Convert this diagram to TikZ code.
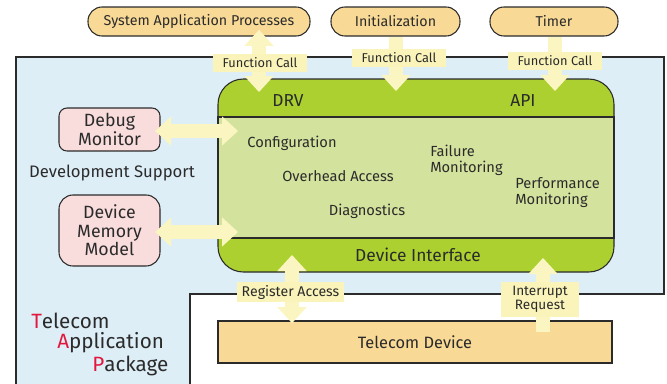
\documentclass[tikz,border=0pt]{standalone}
\usepackage{fontspec}
\setmainfont{Fira Sans}
\usetikzlibrary{arrows.meta}

\definecolor{appblue}{HTML}{DDEEF7}
\definecolor{drvgreen}{HTML}{ABD030}
\definecolor{corelime}{HTML}{D3E29D}
\definecolor{proctan}{HTML}{F8D996}
\definecolor{toolpink}{HTML}{F9DCDC}
\definecolor{callyellow}{HTML}{FBF6C1}
\definecolor{tagyellow}{HTML}{FAF4BA}
\definecolor{initred}{HTML}{E3173E}
\definecolor{inkgray}{HTML}{2B2B2B}

\begin{document}
\begin{tikzpicture}[x=0.75pt,y=-0.75pt,
          every node/.style={text=inkgray,font=\fontsize{11}{12}\selectfont},
          proc/.style={draw=inkgray,thick,fill=proctan,rounded corners=10.5pt,minimum height=21.75pt,font=\fontsize{10.7}{12}\selectfont},
          tool/.style={draw=inkgray,thick,fill=toolpink,minimum width=75.75pt,align=center,inner sep=0pt,font=\fontsize{13.3}{13.8}\selectfont},
          calltag/.style={fill=tagyellow,inner sep=0pt,minimum width=70.5pt,minimum height=13.5pt,font=\fontsize{9.6}{9.2}\selectfont},
          band/.style={font=\fontsize{13}{14}\selectfont},
          fat/.style={draw=callyellow,line width=11pt},
          both/.style={fat,{Triangle[length=12pt,width=22pt,line width=0pt]}-{Triangle[length=12pt,width=22pt,line width=0pt]}},
          one/.style={fat,-{Triangle[length=12pt,width=22pt,line width=0pt]}},
          pkgline/.style={anchor=west,inner sep=0pt,font=\fontsize{15.5}{16}\selectfont},
        ]
        \useasboundingbox (0,0) rectangle (667,383);

        % application package area
        \draw[thick,draw=inkgray,fill=appblue] (16,395) -- (16,57) -- (664,57) -- (664,294)
              -- (190,294) -- (190,395);

        % driver block
        \draw[thick,draw=inkgray,fill=drvgreen,rounded corners=19pt] (218,79) rectangle (614,272);
        \draw[thick,draw=inkgray,fill=corelime] (218,117) rectangle (614,238);

        % top processes
        \node[proc,minimum width=166.5pt] (sap) at (199,21.5) {System Application Processes};
        \node[proc,minimum width=96.75pt] (init) at (395.5,21.5) {Initialization};
        \node[proc,minimum width=96pt] (timer) at (554,21.5) {Timer};

        % development support
        \node[tool,rounded corners=6pt,minimum height=32.25pt] (debug) at (109.5,129.5) {Debug\\Monitor};
        \node[tool,rounded corners=10.5pt,minimum height=53.25pt] (devmem) at (109.5,230.5) {Device\\Memory\\Model};
        \node[font=\fontsize{12.5}{14}\selectfont] (devsup) at (112,173) {Development Support};

        % device
        \node[draw=inkgray,thick,fill=proctan,minimum width=295.5pt,minimum height=31.5pt,
              font=\fontsize{12.3}{14}\selectfont] (dev) at (415,342) {Telecom Device};

        % driver texts
        \node[band] (drv) at (288,101) {DRV};
        \node[band] (api) at (523,101) {API};
        \node[band] (devif) at (418,255) {Device Interface};
        \node (config) at (292,143) {Configuration};
        \node (overhead) at (338,176) {Overhead Access};
        \node (diag) at (367,211) {Diagnostics};
        \node[align=left,anchor=west,inner sep=0pt] (failmon) at (430,160) {Failure\\Monitoring};
        \node[align=left,anchor=west,inner sep=0pt] (perfmon) at (515,192.5) {Performance\\Monitoring};

        % connector ends
        \coordinate (sapin) at (259,92);
        \coordinate (initin) at (396,91);
        \coordinate (timerin) at (555,91);
        \coordinate (debugin) at (238,131);
        \coordinate (devmemin) at (238,232);
        \coordinate (regin) at (292,255);
        \coordinate (irqin) at (543,258);
        \coordinate (irqout) at (543,332);

        % calls
        \draw[both] ([yshift=5pt]sap.south -| sapin) -- (sapin);
        \draw[one] (init.south -| initin) -- (initin);
        \draw[one] (timer.south -| timerin) -- (timerin);
        \draw[both] ([xshift=-4pt]debug.east |- debugin) -- (debugin);
        \draw[both] ([xshift=-4pt]devmem.east |- devmemin) -- (devmemin);
        \draw[both] (regin) -- ([yshift=-2pt]dev.north -| regin);
        \draw[one] (irqout) -- (irqin);

        \node[calltag] (sapcall) at (260,62.5) {Function Call};
        \node[calltag] (initcall) at (399,58) {Function Call};
        \node[calltag] (timercall) at (555,60.5) {Function Call};
        \node[calltag,minimum width=80pt,minimum height=15pt,font=\fontsize{10.6}{11}\selectfont] (regacc) at (290.5,292) {Register Access};
        \node[calltag,minimum width=58pt,minimum height=26pt,align=center,font=\fontsize{10.2}{9}\selectfont] (irq) at (540,299.5) {Interrupt\\Request};

        % package title
        \node[pkgline] (tel) at (31,321) {\textcolor{initred}{T}elecom};
        \node[pkgline] (app) at (57,343) {\textcolor{initred}{A}pplication};
        \node[pkgline] (pkg) at (92,366) {\textcolor{initred}{P}ackage};
      \end{tikzpicture}
\end{document}
